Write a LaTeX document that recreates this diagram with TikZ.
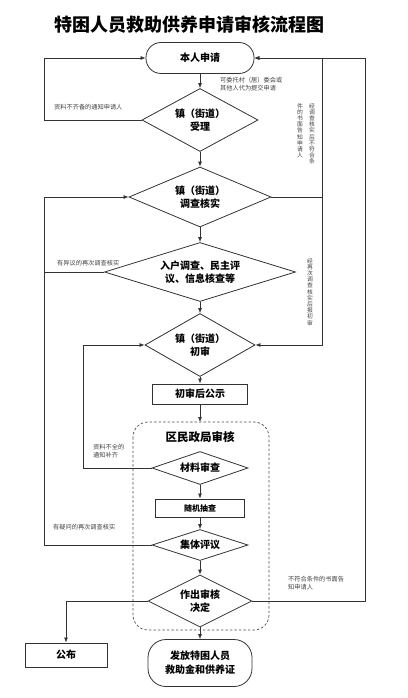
\documentclass[tikz,border=0pt]{standalone}
\usepackage{fontspec}
\setmainfont{Noto Sans CJK SC}
\usetikzlibrary{shapes.geometric,arrows.meta}
\begin{document}
\begin{tikzpicture}[x=1pt,y=-1pt,
  ln/.style={draw=black!80, line width=0.7pt},
  arr/.style={ln,-{Latex[length=5pt,width=4pt]}},
  dia/.style={diamond, draw=black!80, line width=0.8pt, inner sep=0pt, font=\fontsize{10}{13}\selectfont\bfseries, align=center},
  procbox/.style={rectangle, draw=black!80, line width=0.9pt, inner sep=0pt, font=\fontsize{10}{13}\selectfont\bfseries, align=center},
  term/.style={rectangle, rounded corners=15pt, draw=black!80, line width=0.8pt, inner sep=0pt, font=\fontsize{10}{14}\selectfont\bfseries, align=center},
  lbl/.style={font=\fontsize{6.2}{8}\selectfont, text=black!75, inner sep=0pt, align=left},
  vlbl/.style={font=\fontsize{5.8}{6.2}\selectfont, text=black!75, inner sep=0pt, align=center}]
\useasboundingbox (0,0) rectangle (407,698);
\node[font=\fontsize{18}{20}\selectfont\bfseries] (title) at (189,25) {特困人员救助供养申请审核流程图};
\node[term, minimum width=108pt, minimum height=31pt] (start) at (200,58) {本人申请};
\node[dia, minimum width=116pt, minimum height=63pt, aspect=1.84] (d1) at (200,120) {镇（街道）\\受理};
\node[dia, minimum width=142pt, minimum height=60pt, aspect=2.37] (d2) at (200,197) {镇（街道）\\调查核实};
\node[dia, minimum width=191pt, minimum height=59pt, aspect=3.24] (d3) at (200,272) {入户调查、民主评\\议、信息核查等};
\node[dia, minimum width=110pt, minimum height=63pt, aspect=1.75] (d4) at (200,345) {镇（街道）\\初审};
\node[procbox, minimum width=95pt, minimum height=20pt] (pub) at (200,394) {初审后公示};
\draw[black!70, line width=0.7pt, dash pattern=on 2.5pt off 2pt, rounded corners=15pt] (133,422) rectangle (269,630);
\coordinate (btop) at (200,422);
\node[font=\fontsize{11.5}{13}\selectfont\bfseries] (qt) at (200,437) {区民政局审核};
\node[dia, minimum width=96pt, minimum height=33pt, aspect=2.9] (d5) at (200,468) {材料审查};
\node[procbox, minimum width=89pt, minimum height=18pt, font=\fontsize{8}{10}\selectfont\bfseries] (rnd) at (200,508) {随机抽查};
\node[dia, minimum width=96pt, minimum height=31pt, aspect=3.1] (d6) at (200,545) {集体评议};
\node[dia, minimum width=104pt, minimum height=52pt, aspect=2] (d7) at (200,601) {作出审核\\决定};
\node[term, rounded corners=18pt, minimum width=104pt, minimum height=47pt] (fin) at (200,663) {发放特困人员\\救助金和供养证};
\node[procbox, minimum width=82pt, minimum height=24pt] (fb) at (66,655) {公布};
% main flow
\draw[arr] (start) -- (d1);
\draw[arr] (d1) -- (d2);
\draw[arr] (d2) -- (d3);
\draw[arr] (d3) -- (d4);
\draw[arr] (d4) -- (pub);
\draw[arr] (pub) -- (btop);
\draw[arr] (d5) -- (rnd);
\draw[arr] (rnd) -- (d6);
\draw[arr] (d6) -- (d7);
\draw[arr] (d7) -- (fin);
% left loops
\coordinate (L1) at (44,120);
\draw[arr] (d1.west) -- (L1) |- (start.west);
\coordinate (L2) at (44,545);
\draw[arr] (d6.west) -- (L2) |- (d2.west);
\draw[ln] (d3.west) -- (d3.west -| L2);
\coordinate (L3) at (83,468);
\draw[arr] (d5.west) -- (L3) |- (d4.west);
% right loops
\coordinate (R1) at (322,197);
\draw[arr] (d2.east) -- (R1) |- (start.east);
\draw[arr] (R1) |- (d4.east);
\coordinate (R2) at (365,601);
\draw[arr] (d7.east) -- (R2) |- (start.east);
\draw[arr] (d7.west) -| (fb.north);
% labels
\node[lbl, anchor=west] (t1) at (220,84) {可委托村（居）委会或\\其他人代为提交申请};
\node[lbl, anchor=west] (t2) at (54,107) {资料不齐备的通知申请人};
\node[vlbl, anchor=north] (t3) at (312,103) {经\\调\\查\\核\\实\\后\\不\\符\\合\\条};
\node[vlbl, anchor=north] (t4) at (300,103) {件\\的\\书\\面\\告\\知\\申\\请\\人};
\node[lbl, anchor=west] (t5) at (57,263) {有异议的再次调查核实};
\node[vlbl, anchor=north] (t6) at (310,258) {经\\再\\次\\调\\查\\核\\实\\后\\报\\初\\审};
\node[lbl, anchor=west] (t7) at (93,451) {资料不全的\\通知补齐};
\node[lbl, anchor=west] (t8) at (53,527) {有疑问的再次调查核实};
\node[lbl, anchor=west] (t9) at (288,583) {不符合条件的书面告\\知申请人};
\end{tikzpicture}
\end{document}
